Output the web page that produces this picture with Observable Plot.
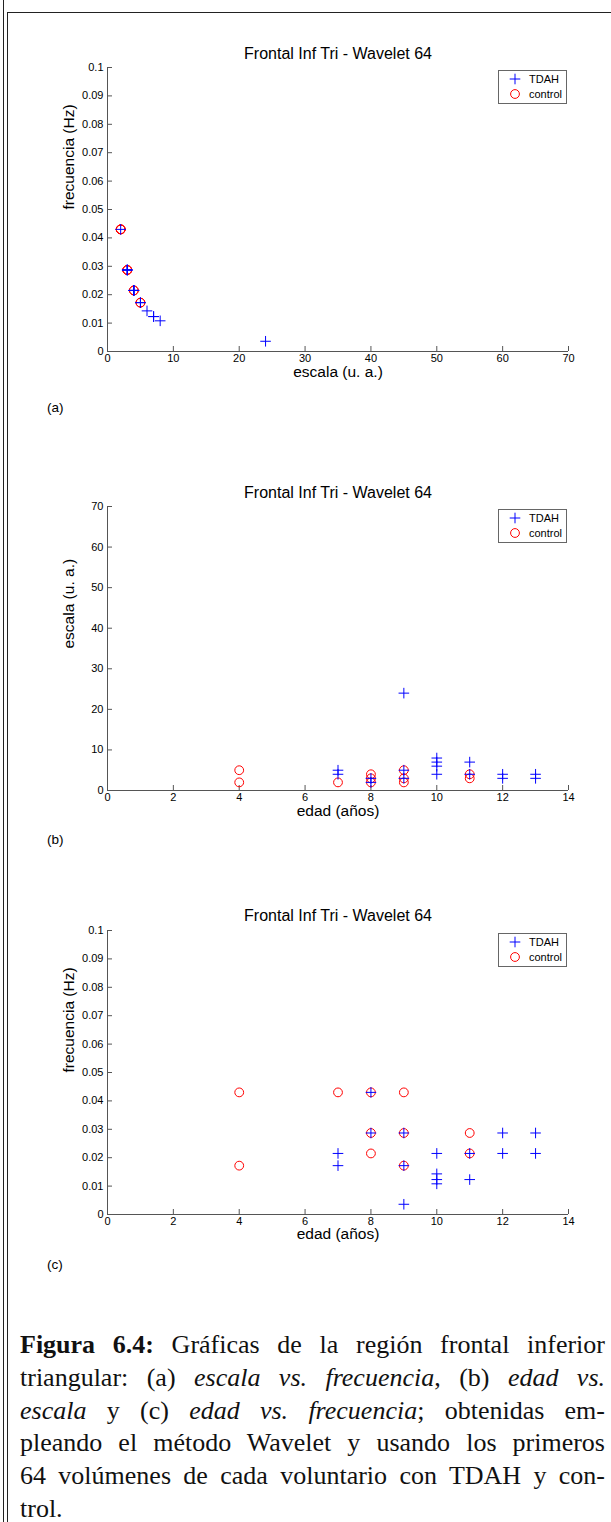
<!DOCTYPE html>
<html>
<head>
<meta charset="utf-8">
<script src="https://cdn.jsdelivr.net/npm/d3@7"></script>
<script src="https://cdn.jsdelivr.net/npm/@observablehq/plot@0.6"></script>
<style>
  body { margin: 0; background: #fff; }
  #page { position: relative; width: 611px; height: 1522px; overflow: hidden; background: #fff; font-family: "Liberation Sans", Arial, sans-serif; }
  .vline { position: absolute; left: 3px; top: 0; width: 1px; height: 1522px; background: #222; }
  .box { position: absolute; left: 7px; top: 12px; width: 700px; height: 1600px; border: 1px solid #222; box-sizing: border-box; }
  .panel { position: absolute; left: 0; }
  .panel svg { display: block; overflow: visible; }
  .sub { position: absolute; left: 47px; font-size: 13.5px; line-height: 16px; color: #000; }
  #caption { position: absolute; left: 20px; width: 585px; top: 1329px; font-family: "Liberation Serif", serif; font-size: 26px; line-height: 32.8px; color: #111; }
  .ln { text-align: justify; text-align-last: justify; }
</style>
</head>
<body>
<div id="page">
  <div class="vline"></div>
  <div class="box"></div>
  <div class="panel" id="pa" style="top:30px"></div>
  <div class="sub" style="top:400px">(a)</div>
  <div class="panel" id="pb" style="top:470px"></div>
  <div class="sub" style="top:832px">(b)</div>
  <div class="panel" id="pc" style="top:895px"></div>
  <div class="sub" style="top:1257px">(c)</div>
  <div id="caption">
    <div class="ln"><b>Figura 6.4:</b> Gráficas de la región frontal inferior</div>
    <div class="ln">triangular: (a) <i>escala vs. frecuencia</i>, (b) <i>edad vs.</i></div>
    <div class="ln"><i>escala</i> y (c) <i>edad vs. frecuencia</i>; obtenidas em-</div>
    <div class="ln">pleando el método Wavelet y usando los primeros</div>
    <div class="ln">64 volúmenes de cada voluntario con TDAH y con-</div>
    <div>trol.</div>
  </div>
</div>
<script>
// ---- data ----
const title = "Frontal Inf Tri - Wavelet 64";
const seriesNames = ["TDAH", "control"];

const edadTDAH   = [7, 7, 8, 8, 9, 9, 9, 10, 10, 10, 10, 11, 11, 12, 12, 13, 13];
const escalaTDAH = [4, 5, 2, 3, 24, 5, 3, 4, 6, 7, 8, 7, 4, 3, 4, 3, 4];
const frecTDAH   = [0.0215, 0.0172, 0.043, 0.0287, 0.0036, 0.0172, 0.0287, 0.0215, 0.0143, 0.0123, 0.0108, 0.0123, 0.0215, 0.0287, 0.0215, 0.0287, 0.0215];

const edadControl   = [4, 4, 7, 8, 8, 8, 9, 9, 9, 11, 11];
const escalaControl = [5, 2, 2, 2, 3, 4, 2, 3, 5, 3, 4];
const frecControl   = [0.0172, 0.043, 0.043, 0.043, 0.0287, 0.0215, 0.043, 0.0287, 0.0172, 0.0287, 0.0215];

const escalaTicks = [0, 10, 20, 30, 40, 50, 60, 70];
const edadTicks   = [0, 2, 4, 6, 8, 10, 12, 14];
const frecTicks   = [0, 0.01, 0.02, 0.03, 0.04, 0.05, 0.06, 0.07, 0.08, 0.09, 0.1];

const labelEscala = "escala (u. a.)";
const labelFrec   = "frecuencia (Hz)";
const labelEdad   = "edad (años)";

// ---- styles ----
const BLUE = "#0000ff", RED = "#ff0000", AXIS = "#555";
const FONT = "Liberation Sans, Arial, sans-serif";
const plusSymbol = {
  draw(ctx, size) {
    const r = Math.sqrt(size / Math.PI);
    ctx.moveTo(-r, 0); ctx.lineTo(r, 0);
    ctx.moveTo(0, -r); ctx.lineTo(0, r);
  }
};

const tdahRows = edadTDAH.map((e, i) => ({edad: e, escala: escalaTDAH[i], frec: frecTDAH[i]}));
const controlRows = edadControl.map((e, i) => ({edad: e, escala: escalaControl[i], frec: frecControl[i]}));

function legendMark(index, scales, values, dims) {
  const right = dims.width - dims.marginRight - 2;
  const bw = 68, bh = 33;
  const x0 = right - bw, y0 = dims.marginTop + 3;
  const g = d3.create("svg:g");
  g.append("rect").attr("x", x0 + 0.5).attr("y", y0 + 0.5).attr("width", bw).attr("height", bh)
    .attr("fill", "#fff").attr("stroke", "#666").attr("stroke-width", 1);
  const sx = x0 + 17;
  const r1 = y0 + 9, r2 = y0 + 24;
  g.append("path").attr("d", `M${sx - 5.3},${r1}H${sx + 5.3}M${sx},${r1 - 5.3}V${r1 + 5.3}`)
    .attr("stroke", BLUE).attr("fill", "none");
  g.append("circle").attr("cx", sx).attr("cy", r2).attr("r", 4.4).attr("stroke", RED).attr("fill", "none");
  seriesNames.forEach((t, i) => {
    g.append("text").attr("x", x0 + 31).attr("y", i ? r2 : r1).attr("dy", "0.35em")
      .attr("text-anchor", "start")
      .attr("font-size", 11).attr("font-family", FONT).attr("fill", "#000").text(t);
  });
  return g.node();
}

function makePanel(el, {xKey, yKey, xDomain, yDomain, xTicks, yTicks, xLabel, yLabel, top, frameTop, frameBottom, titleDy, xLabelDy}) {
  const H = 360, W = 611;
  const mt = frameTop - top, mb = top + H - frameBottom, ml = 107, mr = 43;
  const fw = W - ml - mr, fh = H - mt - mb;
  const fmt = d => String(d);
  const chart = Plot.plot({
    width: W, height: H,
    marginTop: mt, marginBottom: mb, marginLeft: ml, marginRight: mr,
    style: {fontFamily: FONT, background: "transparent", color: "#000"},
    x: {domain: xDomain, nice: false},
    y: {domain: yDomain, nice: false},
    marks: [
      Plot.ruleY([yDomain[0]], {stroke: AXIS}),
      Plot.ruleX([xDomain[0]], {stroke: AXIS}),
      Plot.tickX(xTicks, {x: d => d, stroke: AXIS, insetTop: fh - 5}),
      Plot.tickY(yTicks, {y: d => d, stroke: AXIS, insetRight: fw - 5}),
      Plot.axisX({ticks: xTicks, tickSize: 0, tickPadding: 3, fontSize: 11, tickFormat: fmt, label: null}),
      Plot.axisY({ticks: yTicks, tickSize: 0, tickPadding: 4, fontSize: 11, tickFormat: fmt, label: null}),
      Plot.text([title], {frameAnchor: "top", lineAnchor: "middle", dy: titleDy, fontSize: 16, fill: "#000"}),
      Plot.text([xLabel], {frameAnchor: "bottom", lineAnchor: "middle", dy: xLabelDy, fontSize: 15.5, fill: "#000"}),
      Plot.text([yLabel], {frameAnchor: "left", lineAnchor: "middle", dx: -38, rotate: -90, fontSize: 15.5, fill: "#000"}),
      Plot.dot(controlRows, {x: xKey, y: yKey, r: 4.4, stroke: RED, fill: "none", strokeWidth: 1}),
      Plot.dot(tdahRows, {x: xKey, y: yKey, r: 5.3, symbol: plusSymbol, stroke: BLUE, fill: "none", strokeWidth: 1}),
      legendMark
    ]
  });
  document.getElementById(el).appendChild(chart);
}

makePanel("pa", {xKey: "escala", yKey: "frec", xDomain: [0, 70], yDomain: [0, 0.1], xTicks: escalaTicks, yTicks: frecTicks,
  xLabel: labelEscala, yLabel: labelFrec, top: 30, frameTop: 67, frameBottom: 351, titleDy: -14, xLabelDy: 21});
makePanel("pb", {xKey: "edad", yKey: "escala", xDomain: [0, 14], yDomain: [0, 70], xTicks: edadTicks, yTicks: escalaTicks,
  xLabel: labelEdad, yLabel: labelEscala, top: 470, frameTop: 506, frameBottom: 790, titleDy: -14, xLabelDy: 21});
makePanel("pc", {xKey: "edad", yKey: "frec", xDomain: [0, 14], yDomain: [0, 0.1], xTicks: edadTicks, yTicks: frecTicks,
  xLabel: labelEdad, yLabel: labelFrec, top: 895, frameTop: 930, frameBottom: 1214, titleDy: -15, xLabelDy: 20});
</script>
</body>
</html>
